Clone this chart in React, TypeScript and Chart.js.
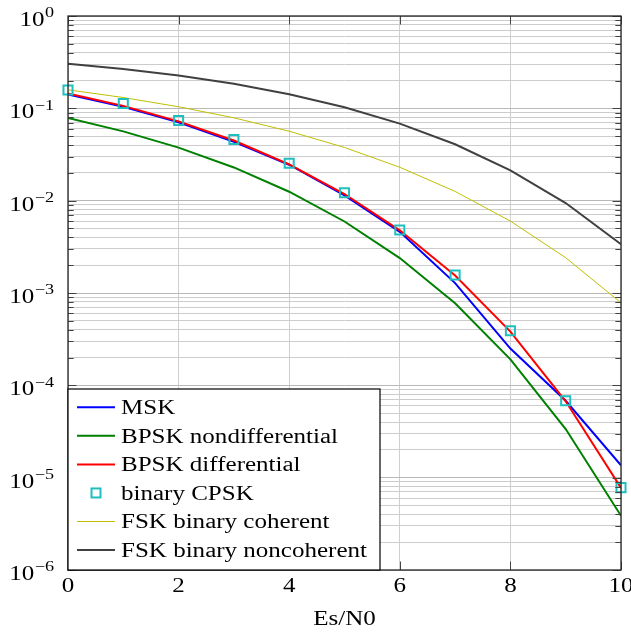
import React, { useEffect, useRef } from "react";
import { Chart, registerables } from "chart.js";

Chart.register(...registerables);

// ---------- data ----------
const esN0 = [0, 1, 2, 3, 4, 5, 6, 7, 8, 9, 10];
const msk = [0.141, 0.104, 0.0705, 0.0435, 0.0245, 0.0114, 0.0046, 0.00128, 0.00025, 6.8e-5, 1.36e-5];
const bpskNondiff = [0.0786, 0.0563, 0.0375, 0.0229, 0.0125, 0.00595, 0.00239, 0.000773, 0.000191, 3.36e-5, 3.87e-6];
const bpskDiff = [0.1448, 0.1063, 0.0722, 0.0448, 0.0247, 0.0118, 0.00477, 0.001545, 0.000382, 6.72e-5, 7.74e-6];
const cpsk = [0.158, 0.113, 0.074, 0.046, 0.0254, 0.0122, 0.0048, 0.00157, 0.00039, 6.8e-5, 7.8e-6];
const fskCoherent = [0.1587, 0.1309, 0.104, 0.0789, 0.0565, 0.0377, 0.023, 0.01259, 0.00601, 0.00241, 0.000783];
const fskNoncoherent = [0.3033, 0.2664, 0.2263, 0.1842, 0.1424, 0.1029, 0.0683, 0.0408, 0.02132, 0.00942, 0.00337];

const xTickValues = [0, 2, 4, 6, 8, 10];
const yDecadeExponents = [0, -1, -2, -3, -4, -5, -6];
const xTitle = "Es/N0";
const seriesNames = [
  "MSK",
  "BPSK nondifferential",
  "BPSK differential",
  "binary CPSK",
  "FSK binary coherent",
  "FSK binary noncoherent",
];

// ---------- styles ----------
const COLORS = {
  msk: "#0000ff",
  nondiff: "#008000",
  diff: "#ff0000",
  cpsk: "#1fbfbf",
  coherent: "#bfbf00",
  noncoherent: "#404040",
};
const FONT_FAMILY = '"Liberation Serif", "Times New Roman", serif';

function buildLogTicks() {
  const ticks: { value: number }[] = [];
  for (let e = -6; e <= 0; e++) {
    for (let m = 1; m <= 9; m++) {
      const v = m * Math.pow(10, e);
      if (v > 1.0000001) break;
      ticks.push({ value: v });
    }
  }
  return ticks;
}

function isDecade(v: number) {
  const l = Math.log10(v);
  return Math.abs(l - Math.round(l)) < 1e-9;
}

const decorPlugin = {
  id: "decor",
  afterDraw(chart: any) {
    const ctx: CanvasRenderingContext2D = chart.ctx;
    const area = chart.chartArea;
    const xs = chart.scales.x;
    const ys = chart.scales.y;

    ctx.save();
    ctx.font = `20px ${FONT_FAMILY}`;
    const sx = 246 / ctx.measureText("FSK binary noncoherent").width;

    const drawText = (text: string, x: number, y: number, align: string, size: number) => {
      ctx.save();
      ctx.font = `${size}px ${FONT_FAMILY}`;
      const w = ctx.measureText(text).width * sx;
      const x0 = align === "right" ? x - w : align === "center" ? x - w / 2 : x;
      ctx.translate(x0, y);
      ctx.scale(sx, 1);
      ctx.textAlign = "left";
      ctx.textBaseline = "alphabetic";
      ctx.fillStyle = "#000";
      ctx.fillText(text, 0, 0);
      ctx.restore();
      return w;
    };
    const measure = (text: string, size: number) => {
      ctx.save();
      ctx.font = `${size}px ${FONT_FAMILY}`;
      const w = ctx.measureText(text).width * sx;
      ctx.restore();
      return w;
    };

    // tick marks (inside)
    ctx.strokeStyle = "#444";
    ctx.lineWidth = 1;
    for (const t of ys.ticks) {
      const y = Math.round(ys.getPixelForValue(t.value)) + 0.5;
      const len = isDecade(t.value) ? 8.5 : 5.7;
      ctx.beginPath();
      ctx.moveTo(area.left, y);
      ctx.lineTo(area.left + len, y);
      ctx.moveTo(area.right, y);
      ctx.lineTo(area.right - len, y);
      ctx.stroke();
    }
    for (const v of xTickValues) {
      const x = Math.round(xs.getPixelForValue(v)) + 0.5;
      ctx.beginPath();
      ctx.moveTo(x, area.bottom);
      ctx.lineTo(x, area.bottom - 8.5);
      ctx.moveTo(x, area.top);
      ctx.lineTo(x, area.top + 8.5);
      ctx.stroke();
    }

    // frame
    ctx.strokeStyle = "#262626";
    ctx.lineWidth = 1.3;
    ctx.strokeRect(area.left, area.top, area.right - area.left, area.bottom - area.top);

    // y labels 10^e
    const labelRight = 54;
    for (const e of yDecadeExponents) {
      const y = ys.getPixelForValue(Math.pow(10, e));
      const expText = e === 0 ? "0" : "\u2212" + String(-e);
      const wExp = measure(expText, 14.5);
      const xExp = labelRight - wExp;
      drawText(expText, xExp, y + 10 - 8.7, "left", 14.5);
      drawText("10", xExp - 0.5, y + 10, "right", 20);
    }

    // x labels
    for (const v of xTickValues) {
      const x = xs.getPixelForValue(v);
      drawText(String(v), x, 591.5, "center", 20);
    }
    drawText(xTitle, (area.left + area.right) / 2, 625, "center", 20);

    // legend
    const lx = area.left;
    const ly = 389;
    const lw = 380 - area.left;
    const lh = area.bottom - ly;
    ctx.fillStyle = "#fff";
    ctx.fillRect(lx, ly, lw, lh);
    ctx.strokeStyle = "#000";
    ctx.lineWidth = 1.2;
    ctx.strokeRect(lx, ly, lw, lh);

    const styles = [
      { color: COLORS.msk, width: 2, marker: false },
      { color: COLORS.nondiff, width: 2, marker: false },
      { color: COLORS.diff, width: 2, marker: false },
      { color: COLORS.cpsk, width: 2, marker: true },
      { color: COLORS.coherent, width: 1, marker: false },
      { color: COLORS.noncoherent, width: 2, marker: false },
    ];
    seriesNames.forEach((name, i) => {
      const cy = 407.3 + i * 28.55;
      const st = styles[i];
      if (st.marker) {
        ctx.strokeStyle = st.color;
        ctx.lineWidth = 2;
        ctx.strokeRect(96 - 4.5, cy - 4.5, 9, 9);
      } else {
        ctx.strokeStyle = st.color;
        ctx.lineWidth = st.width;
        ctx.beginPath();
        ctx.moveTo(77, cy);
        ctx.lineTo(115, cy);
        ctx.stroke();
      }
      drawText(name, 121, cy + 6.7, "left", 20);
    });

    ctx.restore();
  },
};

export default function App() {
  const canvasRef = useRef<HTMLCanvasElement | null>(null);

  useEffect(() => {
    if (!canvasRef.current) return;
    const lineDs = (label: string, data: number[], color: string, width: number, order: number) => ({
      label,
      data: esN0.map((x, i) => ({ x, y: data[i] })),
      borderColor: color,
      backgroundColor: color,
      borderWidth: width,
      pointRadius: 0,
      tension: 0,
      order,
    });
    const chart = new Chart(canvasRef.current, {
      type: "line",
      data: {
        datasets: [
          lineDs(seriesNames[0], msk, COLORS.msk, 2, 2),
          lineDs(seriesNames[1], bpskNondiff, COLORS.nondiff, 2, 3),
          lineDs(seriesNames[2], bpskDiff, COLORS.diff, 2, 1),
          {
            label: seriesNames[3],
            data: esN0.map((x, i) => ({ x, y: cpsk[i] })),
            showLine: false,
            pointStyle: "rect",
            pointRadius: 6.4,
            pointBorderWidth: 2,
            pointBorderColor: COLORS.cpsk,
            pointBackgroundColor: "rgba(0,0,0,0)",
            borderColor: COLORS.cpsk,
            backgroundColor: "rgba(0,0,0,0)",
            clip: false,
            order: 0,
          } as any,
          lineDs(seriesNames[4], fskCoherent, COLORS.coherent, 1, 4),
          lineDs(seriesNames[5], fskNoncoherent, COLORS.noncoherent, 2, 5),
        ],
      },
      options: {
        responsive: false,
        animation: false,
        events: [],
        layout: { padding: { left: 0, right: 10, top: 16, bottom: 0 } },
        plugins: {
          legend: { display: false },
          tooltip: { enabled: false },
          title: { display: false },
        },
        scales: {
          x: {
            type: "linear",
            min: 0,
            max: 10,
            ticks: { display: false, stepSize: 2 },
            border: { display: false },
            grid: {
              color: "#cfcfcf",
              lineWidth: 1,
              drawTicks: false,
            },
            afterFit: (scale: any) => {
              scale.height = 63;
            },
          },
          y: {
            type: "logarithmic",
            min: 1e-6,
            max: 1,
            ticks: { display: false, autoSkip: false },
            border: { display: false },
            afterBuildTicks: (scale: any) => {
              scale.ticks = buildLogTicks();
            },
            grid: {
              color: (c: any) => (c.tick && isDecade(c.tick.value) ? "#b8b8b8" : "#cccccc"),
              lineWidth: 1,
              drawTicks: false,
            },
            afterFit: (scale: any) => {
              scale.width = 68;
            },
          },
        },
      } as any,
      plugins: [decorPlugin],
    });
    return () => chart.destroy();
  }, []);

  return (
    <div style={{ position: "fixed", left: 0, top: 0, width: 631, height: 633, background: "#fff" }}>
      <canvas ref={canvasRef} width={631} height={633} style={{ display: "block" }} />
    </div>
  );
}
